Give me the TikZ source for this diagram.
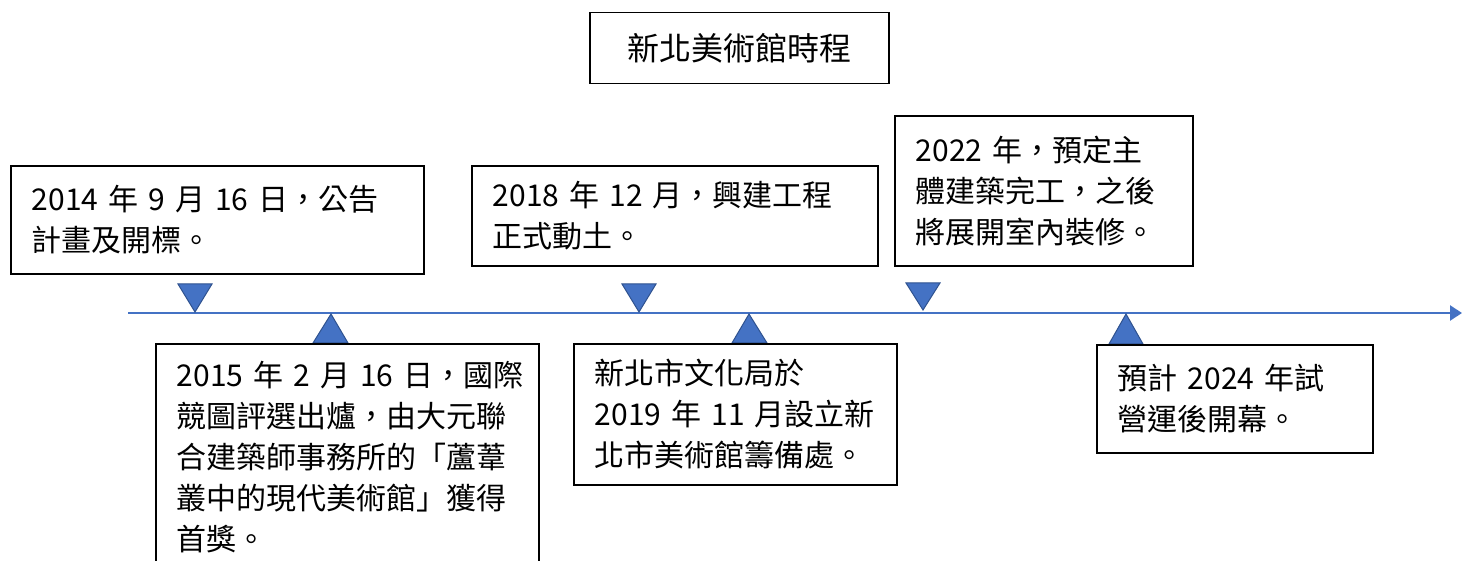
\documentclass[tikz,border=0pt]{standalone}
\usepackage{fontspec}
\setmainfont{Noto Sans CJK TC}
\usetikzlibrary{arrows.meta}
\definecolor{tlblue}{HTML}{4472C4}
\definecolor{tledge}{HTML}{2F528F}
\begin{document}
\begin{tikzpicture}[x=1pt,y=-1pt,
  evbox/.style={draw=black, line width=1.8pt, fill=white, anchor=north west,
    inner xsep=21pt, inner ysep=0pt, align=left,
    font=\fontsize{30}{41}\selectfont},
  titlebox/.style={draw=black, line width=1.5pt, fill=white, anchor=north west,
    minimum width=299pt, minimum height=71pt, inner sep=0pt,
    font=\fontsize{32}{36}\selectfont},
  marker/.style={fill=tlblue, draw=tledge, line width=1pt, line join=miter},
  axis/.style={draw=tlblue, line width=2.6pt, -{Triangle[length=12pt,width=15pt]}},
  ]
\useasboundingbox (0,0) rectangle (1462,561);

% title
\node[titlebox] (title) at (589,12) {新北美術館時程};

% timeline
\coordinate (tl0) at (128,313);
\coordinate (tl1) at (1462,313);
\draw[axis] (tl0) -- (tl1);

% markers
\filldraw[marker] (178,284) -- (212,284) -- (195,312) -- cycle;
\filldraw[marker] (313,343) -- (348,343) -- (331,314) -- cycle;
\filldraw[marker] (622,284) -- (656,284) -- (639,312) -- cycle;
\filldraw[marker] (732,343) -- (767,343) -- (749,314) -- cycle;
\filldraw[marker] (906,283) -- (940,283) -- (923,310) -- cycle;
\filldraw[marker] (1109,344) -- (1143,344) -- (1126,314) -- cycle;

% event boxes
\node[evbox, text width=371pt, minimum height=108pt] (e1) at (10,165)
  {2014~年~9~月~16~日，公告\\計畫及開標。};
\node[evbox, text width=341pt, minimum height=226pt] (e2) at (155,343)
  {2015~年~2~月~16~日，國際\\競圖評選出爐，由大元聯\\合建築師事務所的「蘆葦\\叢中的現代美術館」獲得\\首獎。};
\node[evbox, text width=364pt, minimum height=100pt] (e3) at (471,165)
  {2018~年~12~月，興建工程\\正式動土。};
\node[evbox, text width=281pt, minimum height=141pt] (e4) at (573,343)
  {新北市文化局於\\2019~年~11~月設立新\\北市美術館籌備處。};
\node[evbox, text width=256pt, minimum height=150pt] (e5) at (894,115)
  {2022~年，預定主\\體建築完工，之後\\將展開室內裝修。};
\node[evbox, text width=234pt, minimum height=108pt] (e6) at (1096,344)
  {預計~2024~年試\\營運後開幕。};
\end{tikzpicture}
\end{document}
